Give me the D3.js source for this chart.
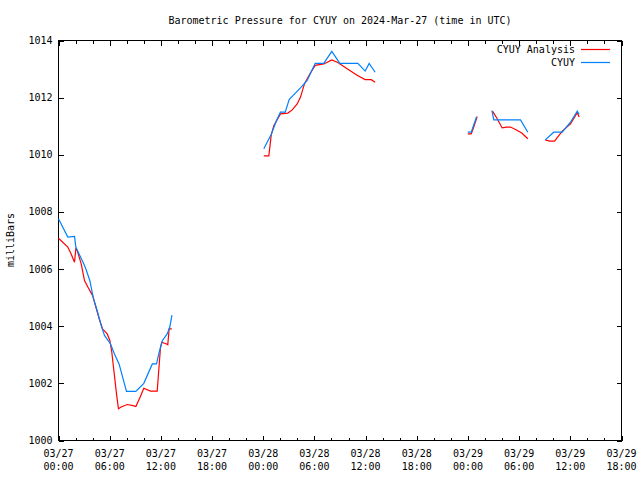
<!DOCTYPE html>
<html>
<head>
<meta charset="utf-8">
<script src="https://cdn.jsdelivr.net/npm/d3@7"></script>
<style>
  html, body { margin: 0; padding: 0; background: #fff; }
  svg { display: block; }
  text { font-family: "DejaVu Sans Mono", monospace; font-size: 10px; fill: #000; }
</style>
</head>
<body>
<svg id="chart" width="640" height="480"></svg>
<script>
// Hours since 2024-03-27 00:00 UTC; null = gap
const analysisHours = [
  0.0, 1.09, 1.48, 1.88, 2.03, 2.19, 2.66, 3.05, 3.44, 3.99, 4.38, 4.77, 5.16, 5.71, 6.02, 6.25, 6.49, 6.8, 7.03, 7.35, 8.05, 8.75, 9.07, 9.6, 10.0, 10.78, 11.57, 11.96, 12.11, 12.66, 12.81, 12.97, 13.28,
  null,
  24.07, 24.66, 24.93, 25.24, 26.02, 26.88, 27.4, 27.98, 28.37, 28.84, 29.46, 30.09, 31.1, 32.04, 32.74, 33.84, 35.0, 35.95, 36.66, 37.12,
  null,
  47.98, 48.38, 48.61, 49.08,
  null,
  50.88, 51.43, 52.01, 52.52, 52.99, 53.69, 54.31, 55.02,
  null,
  57.06, 57.6, 58.15, 59.05, 60.02, 60.81, 61.04
];
const analysisValues = [
  1007.08, 1006.77, 1006.53, 1006.24, 1006.71, 1006.65, 1006.18, 1005.6, 1005.37, 1005.08, 1004.67, 1004.26, 1003.91, 1003.73, 1003.5, 1003.09, 1002.45, 1001.63, 1001.11, 1001.17, 1001.26, 1001.22, 1001.19, 1001.54, 1001.83, 1001.73, 1001.73, 1003.27, 1003.44, 1003.38, 1003.35, 1003.91, 1003.91,
  null,
  1009.96, 1009.96, 1010.68, 1011.02, 1011.43, 1011.46, 1011.57, 1011.78, 1012.02, 1012.49, 1012.83, 1013.13, 1013.18, 1013.32, 1013.23, 1013.01, 1012.78, 1012.63, 1012.63, 1012.54,
  null,
  1010.73, 1010.73, 1010.91, 1011.34,
  null,
  1011.53, 1011.26, 1010.94, 1010.97, 1010.97, 1010.87, 1010.76, 1010.56,
  null,
  1010.52, 1010.48, 1010.48, 1010.83, 1011.08, 1011.47, 1011.32
];
const obsHours = [
  0.0, 1.09, 1.88, 2.03, 2.97, 3.2, 3.67, 4.06, 4.53, 5.0, 5.39, 6.1, 6.56, 7.1, 7.97, 9.06, 10.0, 11.0, 11.49, 11.8, 12.19, 12.74, 13.05, 13.3,
  null,
  24.07, 24.93, 25.56, 26.02, 26.58, 27.04, 27.51, 28.37, 29.15, 29.7, 30.09, 31.1, 32.04, 32.98, 35.09, 35.95, 36.42, 37.12,
  null,
  47.98, 48.38, 49.0,
  null,
  50.8, 51.03, 54.16, 55.02,
  null,
  57.06, 58.06, 59.05, 60.02, 60.81, 61.04
];
const obsValues = [
  1007.76, 1007.12, 1007.14, 1006.77, 1006.18, 1006.01, 1005.6, 1005.02, 1004.55, 1004.03, 1003.68, 1003.38, 1003.03, 1002.68, 1001.72, 1001.72, 1002.0, 1002.68, 1002.68, 1003.09, 1003.5, 1003.73, 1003.97, 1004.39,
  null,
  1010.21, 1010.71, 1011.2, 1011.49, 1011.49, 1011.93, 1012.08, 1012.34, 1012.6, 1012.95, 1013.2, 1013.2, 1013.62, 1013.2, 1013.2, 1012.93, 1013.2, 1012.89,
  null,
  1010.79, 1010.79, 1011.32,
  null,
  1011.55, 1011.22, 1011.22, 1010.79,
  null,
  1010.52, 1010.79, 1010.79, 1011.14, 1011.53, 1011.41
];
const dateLabels = ["03/27", "03/28", "03/29"];
const timeLabels = ["00:00", "06:00", "12:00", "18:00"];
const yTicks = [1000, 1002, 1004, 1006, 1008, 1010, 1012, 1014];
const titleText = "Barometric Pressure for CYUY on 2024-Mar-27 (time in UTC)";
const yLabel = "milliBars";
const seriesNames = ["CYUY Analysis", "CYUY"];
const seriesColors = ["#ff0000", "#0080ff"];

const svg = d3.select("#chart");
const L = 58.5, R = 621.5, T = 40.5, B = 440.5;
const x = d3.scaleLinear().domain([0, 66]).range([L, R]);
const y = d3.scaleLinear().domain([1000, 1014]).range([B, T]);

const majorX = d3.range(0, 67, 6);
const minorX = d3.range(0, 67, 2).filter(h => h % 6 !== 0);

// Title
svg.append("text").attr("x", 340).attr("y", 24).attr("text-anchor", "middle").text(titleText);

// Axes (ticks)
const bottomMajor = d3.axisBottom(x).tickValues(majorX).tickSize(-5).tickFormat("");
const bottomMinor = d3.axisBottom(x).tickValues(minorX).tickSize(-3).tickFormat("");
const topMajor = d3.axisTop(x).tickValues(majorX).tickSize(-5).tickFormat("");
const topMinor = d3.axisTop(x).tickValues(minorX).tickSize(-3).tickFormat("");
const leftAx = d3.axisLeft(y).tickValues(yTicks).tickSize(-5).tickFormat("");
const rightAx = d3.axisRight(y).tickValues(yTicks).tickSize(-5).tickFormat("");

function styleAxis(g) {
  g.select(".domain").remove();
  g.selectAll("line").attr("stroke", "#000").attr("shape-rendering", "crispEdges");
  g.selectAll("text").remove();
}
svg.append("g").attr("transform", `translate(0,${B})`).call(bottomMajor).call(styleAxis);
svg.append("g").attr("transform", `translate(0,${B})`).call(bottomMinor).call(styleAxis);
svg.append("g").attr("transform", `translate(0,${T})`).call(topMajor).call(styleAxis);
svg.append("g").attr("transform", `translate(0,${T})`).call(topMinor).call(styleAxis);
svg.append("g").attr("transform", `translate(${L},0)`).call(leftAx).call(styleAxis);
svg.append("g").attr("transform", `translate(${R},0)`).call(rightAx).call(styleAxis);

// Y tick labels
svg.append("g").selectAll("text").data(yTicks).join("text")
  .attr("x", L - 6).attr("y", d => y(d)).attr("dy", "0.35em")
  .attr("text-anchor", "end").text(d => d);

// X tick labels (two lines)
const xl = svg.append("g").selectAll("text").data(majorX).join("text")
  .attr("text-anchor", "middle");
xl.append("tspan").attr("x", d => x(d)).attr("y", 457).text(d => dateLabels[Math.floor(d / 24)]);
xl.append("tspan").attr("x", d => x(d)).attr("y", 470).text(d => timeLabels[(d % 24) / 6]);

// Y axis label
svg.append("text").attr("transform", "translate(14,240) rotate(-90)")
  .attr("text-anchor", "middle").text(yLabel);

// Frame
svg.append("rect").attr("x", L).attr("y", T).attr("width", R - L).attr("height", B - T)
  .attr("fill", "none").attr("stroke", "#000").attr("shape-rendering", "crispEdges");

// Lines
const analysis = analysisHours.map((h, i) => ({ h, v: analysisValues[i] }));
const obs = obsHours.map((h, i) => ({ h, v: obsValues[i] }));
const line = d3.line().defined(d => d.h !== null && d.v !== null).x(d => x(d.h)).y(d => y(d.v));

svg.append("path").datum(analysis).attr("d", line).attr("fill", "none")
  .attr("stroke", seriesColors[0]).attr("stroke-width", 1.2);
svg.append("path").datum(obs).attr("d", line).attr("fill", "none")
  .attr("stroke", seriesColors[1]).attr("stroke-width", 1.2);

// Legend
const legY = [49.5, 62.5];
seriesNames.forEach((name, i) => {
  svg.append("text").attr("x", 575).attr("y", legY[i]).attr("dy", "0.35em")
    .attr("text-anchor", "end").text(name);
  svg.append("line").attr("x1", 581).attr("x2", 610).attr("y1", legY[i]).attr("y2", legY[i])
    .attr("stroke", seriesColors[i]).attr("stroke-width", 1.2);
});
</script>
</body>
</html>
